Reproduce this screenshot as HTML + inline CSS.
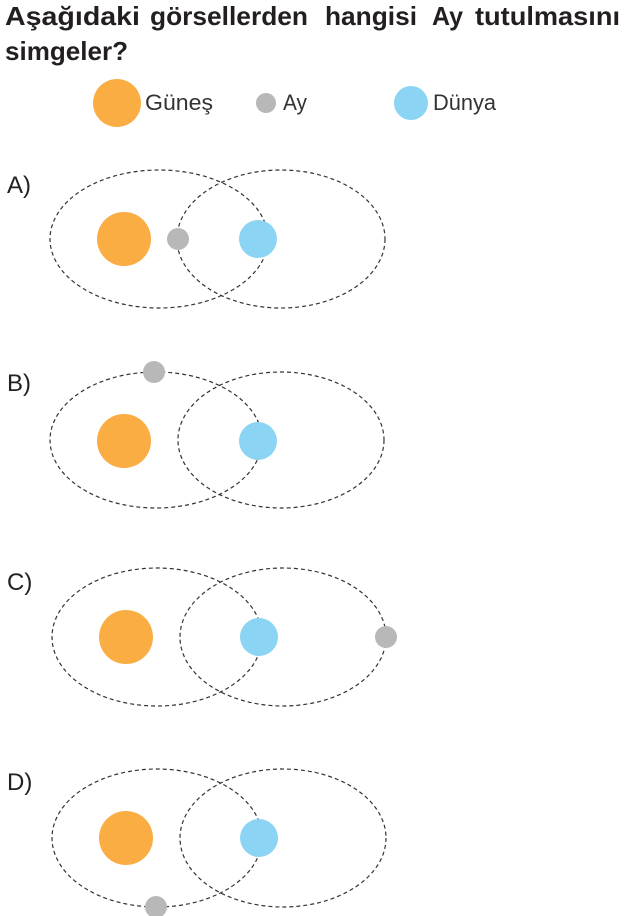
<!DOCTYPE html>
<html><head><meta charset="utf-8"><style>
html,body{margin:0;padding:0;background:#fff;width:626px;height:916px;overflow:hidden;font-family:"Liberation Sans",Arial,sans-serif;}
</style></head><body>
<svg width="626" height="916" viewBox="0 0 626 916" xmlns="http://www.w3.org/2000/svg" font-family="Liberation Sans, Arial, sans-serif">
<g font-size="26" font-weight="bold" fill="#231f20">
<text x="5" y="25" textLength="135" lengthAdjust="spacingAndGlyphs">Aşağıdaki</text>
<text x="150" y="25" textLength="158" lengthAdjust="spacingAndGlyphs">görsellerden</text>
<text x="325" y="25" textLength="92" lengthAdjust="spacingAndGlyphs">hangisi</text>
<text x="432" y="25" textLength="31" lengthAdjust="spacingAndGlyphs">Ay</text>
<text x="475" y="25" textLength="145" lengthAdjust="spacingAndGlyphs">tutulmasını</text>
<text x="5" y="60" textLength="123" lengthAdjust="spacingAndGlyphs">simgeler?</text>
</g>
<circle cx="117" cy="103" r="24" fill="#f9ad42"/>
<text x="145" y="110" font-size="22" fill="#333" textLength="68" lengthAdjust="spacingAndGlyphs">Güneş</text>
<circle cx="266" cy="103" r="10" fill="#b8b8b8"/>
<text x="283" y="110" font-size="22" fill="#333" textLength="24" lengthAdjust="spacingAndGlyphs">Ay</text>
<circle cx="411" cy="103" r="17" fill="#8bd4f3"/>
<text x="433" y="110" font-size="22" fill="#333" textLength="63" lengthAdjust="spacingAndGlyphs">Dünya</text>
<g fill="none" stroke="#333" stroke-width="1.2" stroke-dasharray="4,3">
<ellipse cx="159" cy="239" rx="109" ry="69"/><ellipse cx="281" cy="239" rx="104" ry="69"/>
<ellipse cx="156" cy="440" rx="106" ry="68"/><ellipse cx="281" cy="440" rx="103" ry="68"/>
<ellipse cx="157" cy="637" rx="105" ry="69"/><ellipse cx="283" cy="637" rx="103" ry="69"/>
<ellipse cx="157" cy="838" rx="105" ry="69"/><ellipse cx="283" cy="838" rx="103" ry="69"/>
</g>
<g font-size="24" fill="#222">
<text x="7" y="193">A)</text><text x="7" y="391">B)</text><text x="7" y="590">C)</text><text x="7" y="790">D)</text>
</g>
<circle cx="124" cy="239" r="27" fill="#f9ad42"/><circle cx="178" cy="239" r="11" fill="#b8b8b8"/><circle cx="258" cy="239" r="19" fill="#8bd4f3"/>
<circle cx="124" cy="441" r="27" fill="#f9ad42"/><circle cx="154" cy="372" r="11" fill="#b8b8b8"/><circle cx="258" cy="441" r="19" fill="#8bd4f3"/>
<circle cx="126" cy="637" r="27" fill="#f9ad42"/><circle cx="386" cy="637" r="11" fill="#b8b8b8"/><circle cx="259" cy="637" r="19" fill="#8bd4f3"/>
<circle cx="126" cy="838" r="27" fill="#f9ad42"/><circle cx="156" cy="907" r="11" fill="#b8b8b8"/><circle cx="259" cy="838" r="19" fill="#8bd4f3"/>
</svg>
</body></html>
